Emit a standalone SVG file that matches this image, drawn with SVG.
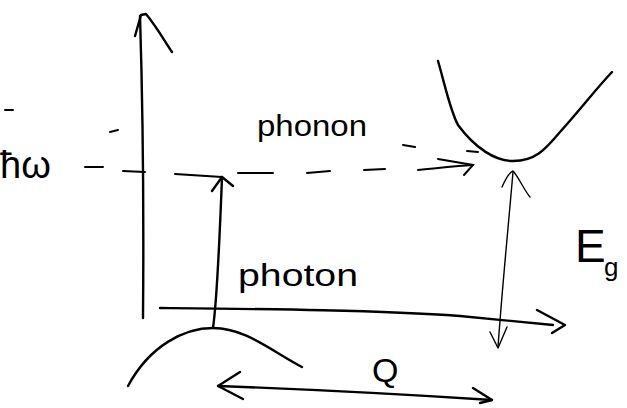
<svg xmlns="http://www.w3.org/2000/svg" width="627" height="408" viewBox="0 0 627 408">
<style>
.s{fill:none;stroke:#000;stroke-width:2.4;stroke-linecap:round;stroke-linejoin:round}
.t{fill:none;stroke:#000;stroke-width:1.4;stroke-linecap:round;stroke-linejoin:round}
.d{fill:none;stroke:#000;stroke-width:2;stroke-linecap:round}
.l{font-family:"Liberation Sans","DejaVu Sans",sans-serif;fill:#000}
</style>
<rect width="627" height="408" fill="#fff"/>
<g id="energy-axis">
<path class="s" d="M140,16 C142,80 144,200 143,318"/>
<path class="s" d="M135,36 L141,15 L146,14 C156,26 164,40 172,52"/>
</g>
<g id="q-axis">
<path class="s" d="M160,308 C260,309 380,310 460,316 C500,320 530,323 553,325"/>
<path class="s" d="M537,310 L565,325 L552,333"/>
</g>
<g id="valence-band">
<path class="s" d="M128,386 C150,345 185,328 213,328 C245,328 270,350 302,367"/>
</g>
<g id="conduction-band">
<path class="s" d="M438,61 C445,85 450,110 458,125 C475,148 495,161 513,161 C535,161 545,150 560,132 C580,110 595,90 612,72"/>
</g>
<g id="connectors">
<g id="photon-arrow">
<path class="s" d="M213,328 C217,300 220,230 222,177"/>
<path class="s" d="M212,191 L222,177 L233,186"/>
</g>
<g id="phonon-arrow">
<path class="d" d="M85,167 L103,167 M123,171 L145,172 M175,174 L222,177 M238,173 L273,173 M307,173 L330,171 M364,170 L385,169 M418,170 C440,168 455,166 472,165"/>
<path class="d" d="M438,159 L473,165 L464,175"/>
<path class="d" d="M5,110 L13,110 M110,132 L118,130 M403,145 L415,147 M467,151 L478,152"/>
</g>
<g id="eg-arrow">
<path class="t" d="M513,172 C508,230 502,290 498,347"/>
<path class="t" d="M502,187 C506,178 510,172 513,171 C518,176 524,190 530,197"/>
<path class="t" d="M490,332 L498,348 L507,327"/>
</g>
<g id="q-arrow">
<path class="s" d="M218,386 C300,389 400,394 492,400"/>
<path class="s" d="M240,372 L218,386 L243,399"/>
<path class="s" d="M473,388 L492,400 L480,403"/>
</g>
</g>
<g id="labels">
<text class="l" x="0" y="178" font-size="38">ħω</text>
<text class="l" x="257" y="136" font-size="30" textLength="110" lengthAdjust="spacingAndGlyphs">phonon</text>
<text class="l" x="238" y="286" font-size="32" textLength="120" lengthAdjust="spacingAndGlyphs">photon</text>
<text class="l" x="575" y="262" font-size="46">E</text>
<text class="l" x="604" y="276" font-size="26">g</text>
<text class="l" x="372" y="382" font-size="34">Q</text>
</g>
</svg>
